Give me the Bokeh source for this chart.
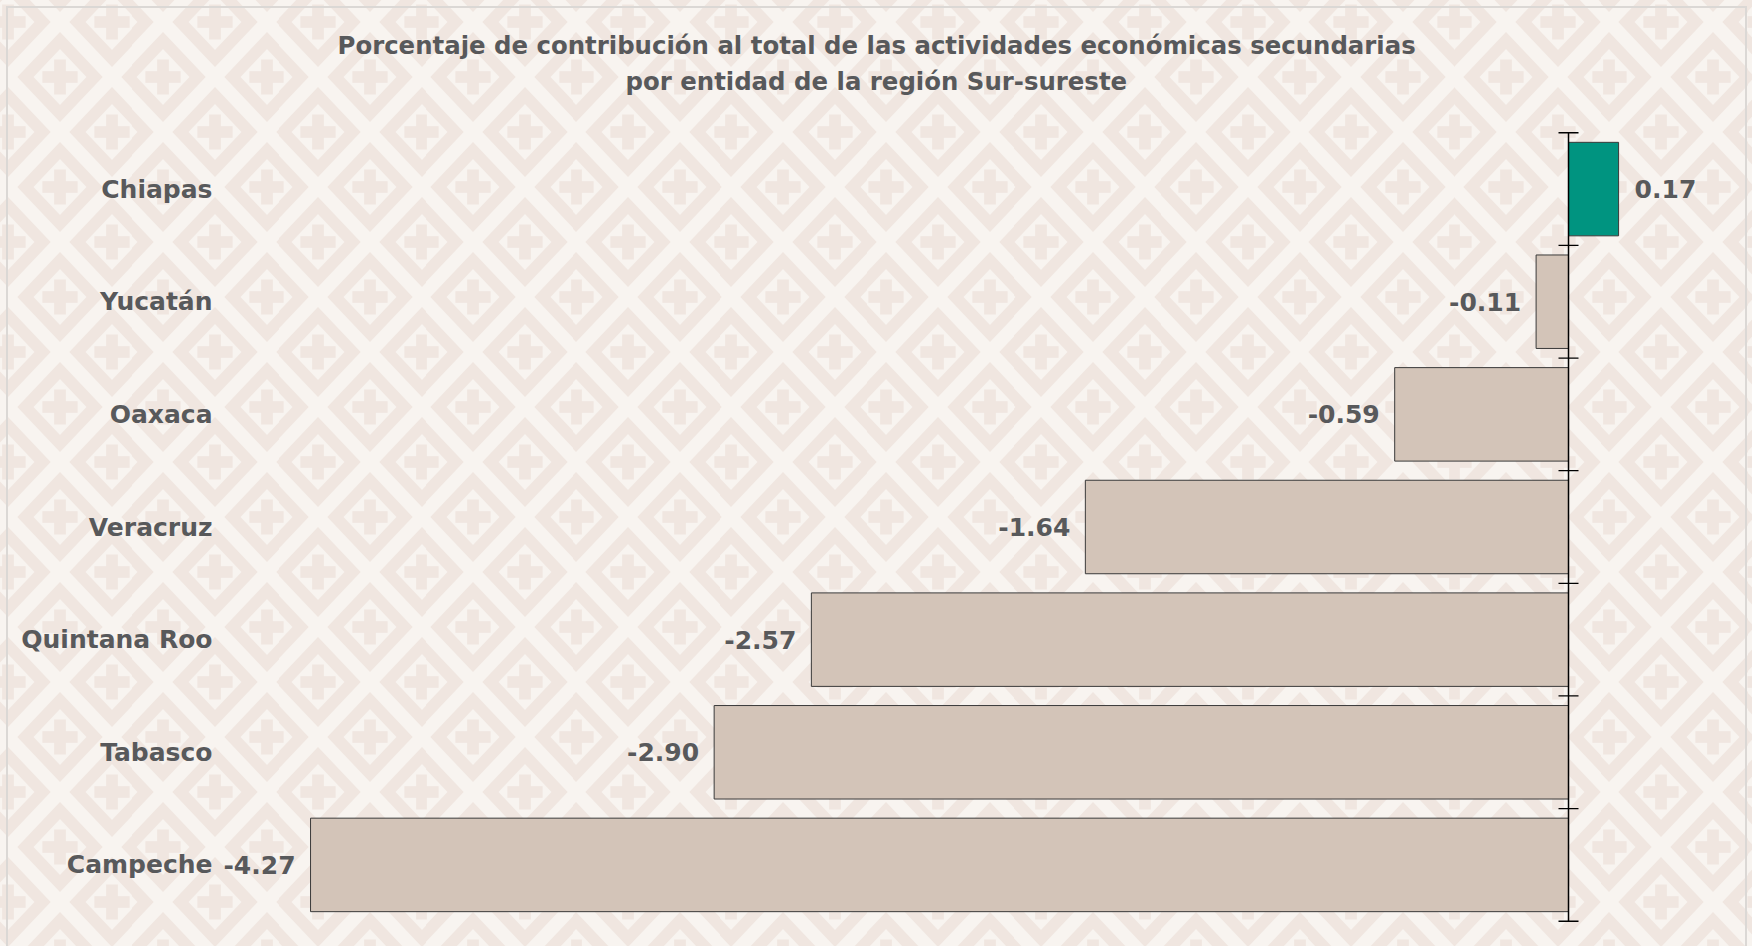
import urllib.parse
from bokeh.plotting import figure
from bokeh.models import FactorRange, Range1d, Title, ColumnDataSource
from bokeh.embed import file_html
from bokeh.resources import INLINE
from bokeh.core.properties import value

# ---------------- data ----------------
states = ["Chiapas", "Yucatán", "Oaxaca", "Veracruz", "Quintana Roo", "Tabasco", "Campeche"]
contrib = [0.17, -0.11, -0.59, -1.64, -2.57, -2.90, -4.27]
title_line1 = "Porcentaje de contribución al total de las actividades económicas secundarias"
title_line2 = "por entidad de la región Sur-sureste"

# ---------------- styles ----------------
FONT = "DejaVu Sans"
TXT = "#58595b"
POS_COLOR = "#009480"
NEG_COLOR = "#d3c4b8"
BORDER = "#dbd8d5"

# background tile (decorative diamond / cross lattice)
W, H = 103.3, 110.0
LIGHT, PINK = "#f8f4f0", "#f0e6e0"


def diamond(cx, cy, d, color):
    a, b = W / 2 * d, H / 2 * d
    return (f'<polygon points="{cx - a},{cy} {cx},{cy - b} {cx + a},{cy} {cx},{cy + b}" '
            f'fill="{color}"/>')


def cross(cx, cy):
    L, T = 17.5, 5.8
    return (f'<rect x="{cx - L}" y="{cy - T}" width="{2 * L}" height="{2 * T}" fill="{PINK}"/>'
            f'<rect x="{cx - T}" y="{cy - L}" width="{2 * T}" height="{2 * L}" fill="{PINK}"/>')


parts = [f'<rect width="{W}" height="{H}" fill="{LIGHT}"/>']
for cx, cy in [(0, 0), (W, 0), (0, H), (W, H), (W / 2, H / 2)]:
    parts += [diamond(cx, cy, 0.82, PINK), diamond(cx, cy, 0.51, LIGHT), cross(cx, cy)]
svg = (f'<svg xmlns="http://www.w3.org/2000/svg" width="{W}" height="{H}" '
       f'viewBox="0 0 {W} {H}" preserveAspectRatio="none">' + "".join(parts) + "</svg>")
uri = "data:image/svg+xml," + urllib.parse.quote(svg)

line = f"linear-gradient({BORDER}, {BORDER})"
page_styles = {
    "background-color": LIGHT,
    "background-image": f'{line}, {line}, {line}, url("{uri}")',
    "background-size": f"2px 100%, 1741px 2px, 2px 100%, {W}px {H}px",
    "background-position": "6px 6px, 6px 6px, 1745px 6px, 8.35px 22px",
    "background-repeat": "no-repeat, no-repeat, no-repeat, repeat",
}

n = len(states)
p = figure(
    y_range=FactorRange(factors=states[::-1], range_padding=0.1, range_padding_units="absolute"),
    x_range=Range1d(-4.5926, 0.5838),
    width=1752, height=946,
    min_border_left=215, min_border_right=12, min_border_top=121, min_border_bottom=14,
    x_axis_location=None, toolbar_location=None, output_backend="svg",
    background_fill_alpha=0, border_fill_alpha=0, outline_line_color=None,
    styles=page_styles,
)

# spacer between frame and the title lines
p.add_layout(Title(text=" ", text_font_size="2px", standoff=18.8), "above")
# title lines (line 2 closer to the frame, line 1 outermost)
p.add_layout(Title(text=title_line2, align="left", offset=410, text_font=FONT,
                   text_font_style="bold", text_font_size="24.4px", text_color=TXT,
                   standoff=4.6), "above")
p.title.text = title_line1
p.title.align = "left"
p.title.offset = 122
p.title.text_font = FONT
p.title.text_font_style = "bold"
p.title.text_font_size = "24.4px"
p.title.text_color = TXT
p.title.standoff = 4.6

p.grid.grid_line_color = None

# category axis (labels only)
ax = p.yaxis[0]
ax.axis_line_color = None
ax.major_tick_line_color = None
ax.minor_tick_line_color = None
ax.major_tick_out = 0
ax.major_tick_in = 0
ax.major_label_standoff = 3
ax.major_label_text_font = FONT
ax.major_label_text_font_style = "bold"
ax.major_label_text_font_size = "25px"
ax.major_label_text_color = TXT

src = ColumnDataSource(dict(
    state=states,
    v=contrib,
    label=[f"{v:.2f}" for v in contrib],
    color=[POS_COLOR if v >= 0 else NEG_COLOR for v in contrib],
    align=["left" if v >= 0 else "right" for v in contrib],
    xoff=[16 if v >= 0 else -15 for v in contrib],
))

p.hbar(y="state", left=0, right="v", height=0.83, fill_color="color",
       line_color="#3a3a3a", line_width=1, source=src)

# zero axis line with ticks at category boundaries
bounds = list(range(n + 1))
p.segment(x0=[0], y0=[0], x1=[0], y1=[n], line_color="black", line_width=1.5)
p.scatter(x=[0] * len(bounds), y=bounds, marker="dash", size=20,
          line_color="black", line_width=1.3)

p.text(x="v", y="state", text="label", source=src, x_offset="xoff",
       text_align="align", text_baseline="middle",
       text_font=value(FONT), text_font_style="bold", text_font_size="25px",
       text_color=TXT)

open("out.html", "w").write(file_html(p, INLINE))
